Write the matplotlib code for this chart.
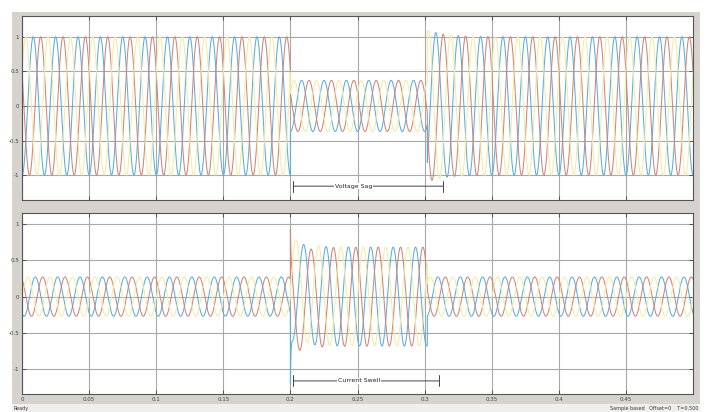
import numpy as np
import matplotlib
matplotlib.use("Agg")
import matplotlib.pyplot as plt
from matplotlib.patches import Rectangle

# values
freq = 60.0                       # Hz, ~3 cycles per 0.05 s
t_end = 0.5
phase_peak = [0.0084, 0.0139, 0.0028]   # time of first peak: blue, red, yellow
colors = ['#5aaedb', '#cf8577', '#f3eba6']

# voltage: sag 0.2 -> 0.302
v_times = [0.0, 0.2, 0.302]
v_amps = [1.0, 0.37, 1.0]
v_overshoot = 0.1                 # after recovery
# current: swell 0.2 -> 0.302
i_times = [0.0, 0.2, 0.302]
i_amps = [0.27, 0.68, 0.27]
i_lag = 0.0015
i_dc = [0.10, -0.12, 0.15]        # decaying offsets after swell start
i_spike = [-0.75, 0.45, 0.0]      # short spikes at t=0.2

yt = [-1, -0.5, 0, 0.5, 1]
xt = [0, 0.05, 0.1, 0.15, 0.2, 0.25, 0.3, 0.35, 0.4, 0.45]
xt_lbl = ['0', '0.05', '0.1', '0.15', '0.2', '0.25', '0.3', '0.35', '0.4', '0.45']

t = np.linspace(0, t_end, 20000)
w = 2 * np.pi * freq


def envelope(times, amps):
    idx = np.searchsorted(times, t, side='right') - 1
    return np.array(amps)[idx]


W, H = 710, 412
fig = plt.figure(figsize=(W / 100, H / 100), dpi=100, facecolor='white')
fig.patches.append(Rectangle((12 / W, 8 / H), 688 / W, (H - 20) / H,
                             transform=fig.transFigure, facecolor='#d6d3ce',
                             edgecolor='none', zorder=-10))
fig.patches.append(Rectangle((12 / W, 0), 688 / W, 8 / H,
                             transform=fig.transFigure, facecolor='#efefef',
                             edgecolor='none', zorder=-10))

ax1 = fig.add_axes([22 / W, 1 - 200 / H, 671 / W, 184 / H])
ax2 = fig.add_axes([22 / W, 1 - 394 / H, 671 / W, 181 / H])

# voltages
env_v = envelope(v_times, v_amps)
rec = t >= v_times[2]
env_v = env_v + np.where(rec, v_overshoot * np.exp(-(t - v_times[2]) / 0.012), 0)
for p, c in zip(phase_peak, colors):
    ax1.plot(t, env_v * np.cos(w * (t - p)), color=c, lw=0.75)

# currents
env_i = envelope(i_times, i_amps)
after = t >= i_times[1]
for k, (p, c) in enumerate(zip(phase_peak, colors)):
    y = env_i * np.cos(w * (t - p - i_lag))
    y = y + np.where(after, i_dc[k] * np.exp(-(t - i_times[1]) / 0.01), 0)
    y = y + np.where(after, i_spike[k] * np.exp(-(t - i_times[1]) / 0.0004), 0)
    ax2.plot(t, y, color=c, lw=0.75)

for ax, yl in ((ax1, (-1.36, 1.3)), (ax2, (-1.34, 1.15))):
    ax.set_xlim(0, t_end)
    ax.set_ylim(*yl)
    ax.set_facecolor('white')
    ax.set_yticks(yt)
    ax.set_yticklabels(['-1', '-0.5', '0', '0.5', '1'])
    ax.set_xticks(xt)
    ax.grid(True, color='#a8a8a8', lw=0.8)
    ax.set_axisbelow(True)
    ax.tick_params(direction='in', length=3, width=0.6, labelsize=4,
                   colors='#444444', pad=2, right=True, top=True)
    for s in ax.spines.values():
        s.set_color('#555555')
        s.set_linewidth(0.8)

ax1.set_xticklabels([])
ax2.set_xticklabels(xt_lbl)

# annotations
ax1.annotate('', xy=(0.2, -1.16), xytext=(0.316, -1.16),
             arrowprops=dict(arrowstyle='|-|', color='#444444', lw=0.7,
                             mutation_scale=4))
ax1.text(0.247, -1.16, 'Voltage Sag', fontsize=4.5, ha='center', va='center',
         color='#222222', bbox=dict(facecolor='white', edgecolor='none', pad=0.5))
ax2.annotate('', xy=(0.2, -1.16), xytext=(0.313, -1.16),
             arrowprops=dict(arrowstyle='|-|', color='#444444', lw=0.7,
                             mutation_scale=4))
ax2.text(0.251, -1.16, 'Current Swell', fontsize=4.5, ha='center', va='center',
         color='#222222', bbox=dict(facecolor='white', edgecolor='none', pad=0.5))

fig.text(13 / W, 2 / H, 'Ready', fontsize=3.5, color='#333333')
fig.text(698 / W, 2 / H, 'Sample based   Offset=0    T=0.500', fontsize=3.5,
         color='#333333', ha='right')

fig.savefig('out.png', dpi=100, facecolor=fig.get_facecolor())
